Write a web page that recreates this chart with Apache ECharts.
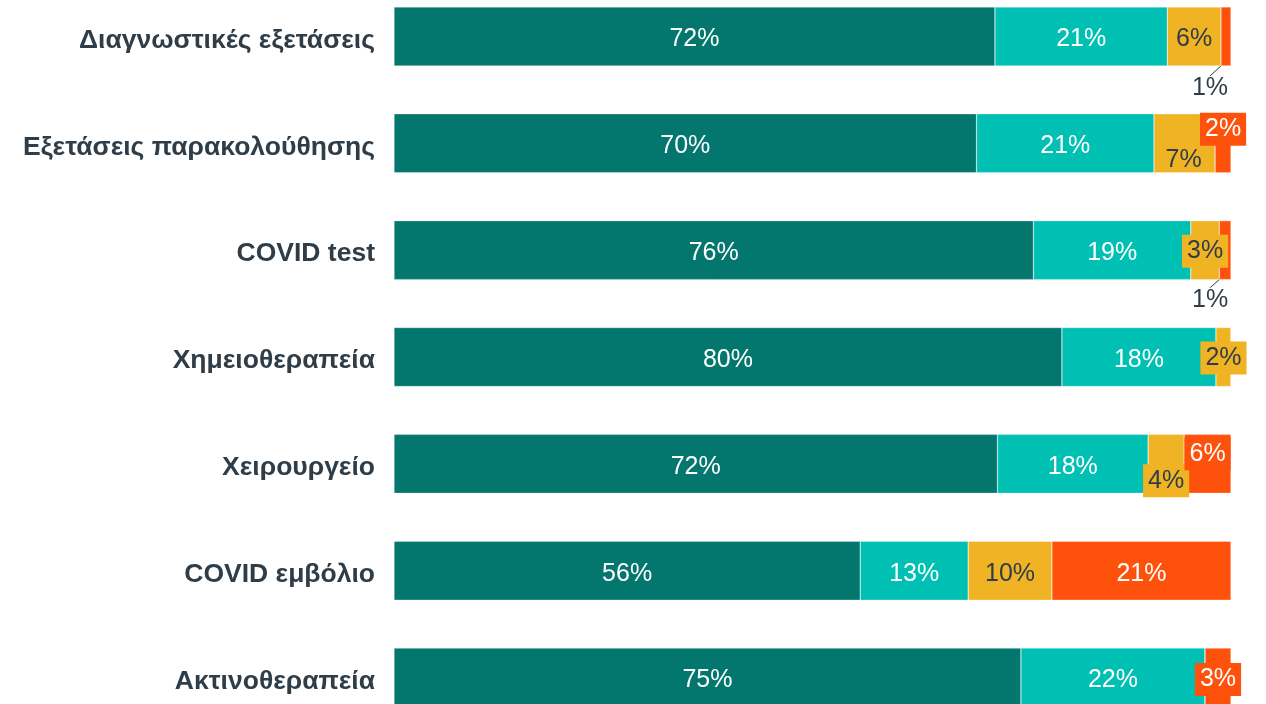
<!DOCTYPE html>
<html>
<head>
<meta charset="utf-8">
<script src="https://cdn.jsdelivr.net/npm/echarts@6.0.0/dist/echarts.min.js"></script>
<style>
  html, body { margin: 0; padding: 0; background: #fff; overflow: hidden; width: 1266px; height: 704px; }
  /* the first and last rows sit partly outside the picture, so the chart box overhangs it */
  #chart { position: absolute; left: 0; top: -17px; width: 1266px; height: 748px; }
</style>
</head>
<body>
<div id="chart"></div>
<script>
var categories = ['Διαγνωστικές εξετάσεις', 'Εξετάσεις παρακολούθησης', 'COVID test',
    'Χημειοθεραπεία', 'Χειρουργείο', 'COVID εμβόλιο', 'Ακτινοθεραπεία'];

var seriesNames = ['Κανονικά', 'Με καθυστέρηση', 'Ακυρώθηκε', 'Δεν έγινε'];
var valuesA = [71.8, 69.6, 76.4, 79.8, 72.1, 55.7, 74.9];
var valuesB = [20.6, 21.2, 18.8, 18.4, 18.0, 12.9, 22.0];
var valuesC = [6.4, 7.3, 3.4, 1.8, 4.3, 10.0, 0];
var valuesD = [1.2, 1.9, 1.4, 0, 5.6, 21.4, 3.1];

var colors = ['#03776E', '#00BFB3', '#F0B323', '#FE520C'];
var labelColors = ['#ffffff', '#ffffff', '#2E3D48', '#ffffff'];
var darkText = '#2E3D48';

// labels that were moved off the segment centre: key = series-row
var moved = {
    '3-0': { dx: -16, dy: 52, outside: true },
    '2-1': { dx: -1, dy: 17 },
    '3-1': { dx: 0, dy: -14, box: true },
    '2-2': { dx: 0, dy: 1, box: true },
    '3-2': { dx: -15, dy: 50, outside: true },
    '2-3': { dx: 0, dy: 1, box: true },
    '2-4': { dx: 0, dy: 17, box: true },
    '3-4': { dx: 0, dy: -10, box: true },
    '3-6': { dx: 0, dy: 2, box: true }
};

var chart = echarts.init(document.getElementById('chart'));

function buildData(values, s) {
    return values.map(function (v, i) {
        var item = { value: v };
        var m = moved[s + '-' + i];
        if (m && m.box) {
            item.label = { backgroundColor: colors[s], padding: [4, 5] };
        }
        if (m && m.outside) {
            item.label = { color: darkText };
            item.labelLine = { show: true, lineStyle: { color: darkText, width: 1 } };
        }
        return item;
    });
}

var allValues = [valuesA, valuesB, valuesC, valuesD];

var series = allValues.map(function (vals, s) {
    return {
        name: seriesNames[s],
        type: 'bar',
        stack: 'total',
        barWidth: 59,
        data: buildData(vals, s),
        itemStyle: { color: colors[s], borderColor: 'rgba(255,255,255,0.6)', borderWidth: 0.5 },
        label: {
            show: true,
            position: 'inside',
            color: labelColors[s],
            fontSize: 25,
            fontFamily: 'Liberation Sans, Arial, sans-serif',
            formatter: function (p) {
                return p.value > 0 ? Math.round(p.value) + '%' : '';
            }
        },
        labelLine: { show: false },
        labelLayout: function (params) {
            var m = moved[params.seriesIndex + '-' + params.dataIndex];
            if (m) {
                return { dx: m.dx, dy: m.dy };
            }
            return { dy: 3 };
        },
        emphasis: { disabled: true }
    };
});

var option = {
    animation: false,
    grid: { left: 394, right: 35, top: 0, bottom: 0, containLabel: false },
    xAxis: {
        type: 'value',
        min: 0,
        max: 100,
        show: false
    },
    yAxis: {
        type: 'category',
        data: categories,
        inverse: true,
        axisLine: { show: false },
        axisTick: { show: false },
        axisLabel: {
            margin: 19,
            formatter: function (v) {
                return '{c|' + v + '}';
            },
            rich: {
                c: {
                    fontSize: 26.5,
                    fontWeight: 'bold',
                    color: darkText,
                    padding: [8, 0, 0, 0],
                    fontFamily: 'Liberation Sans, Arial, sans-serif'
                }
            }
        }
    },
    series: series
};

chart.setOption(option);
</script>
</body>
</html>
